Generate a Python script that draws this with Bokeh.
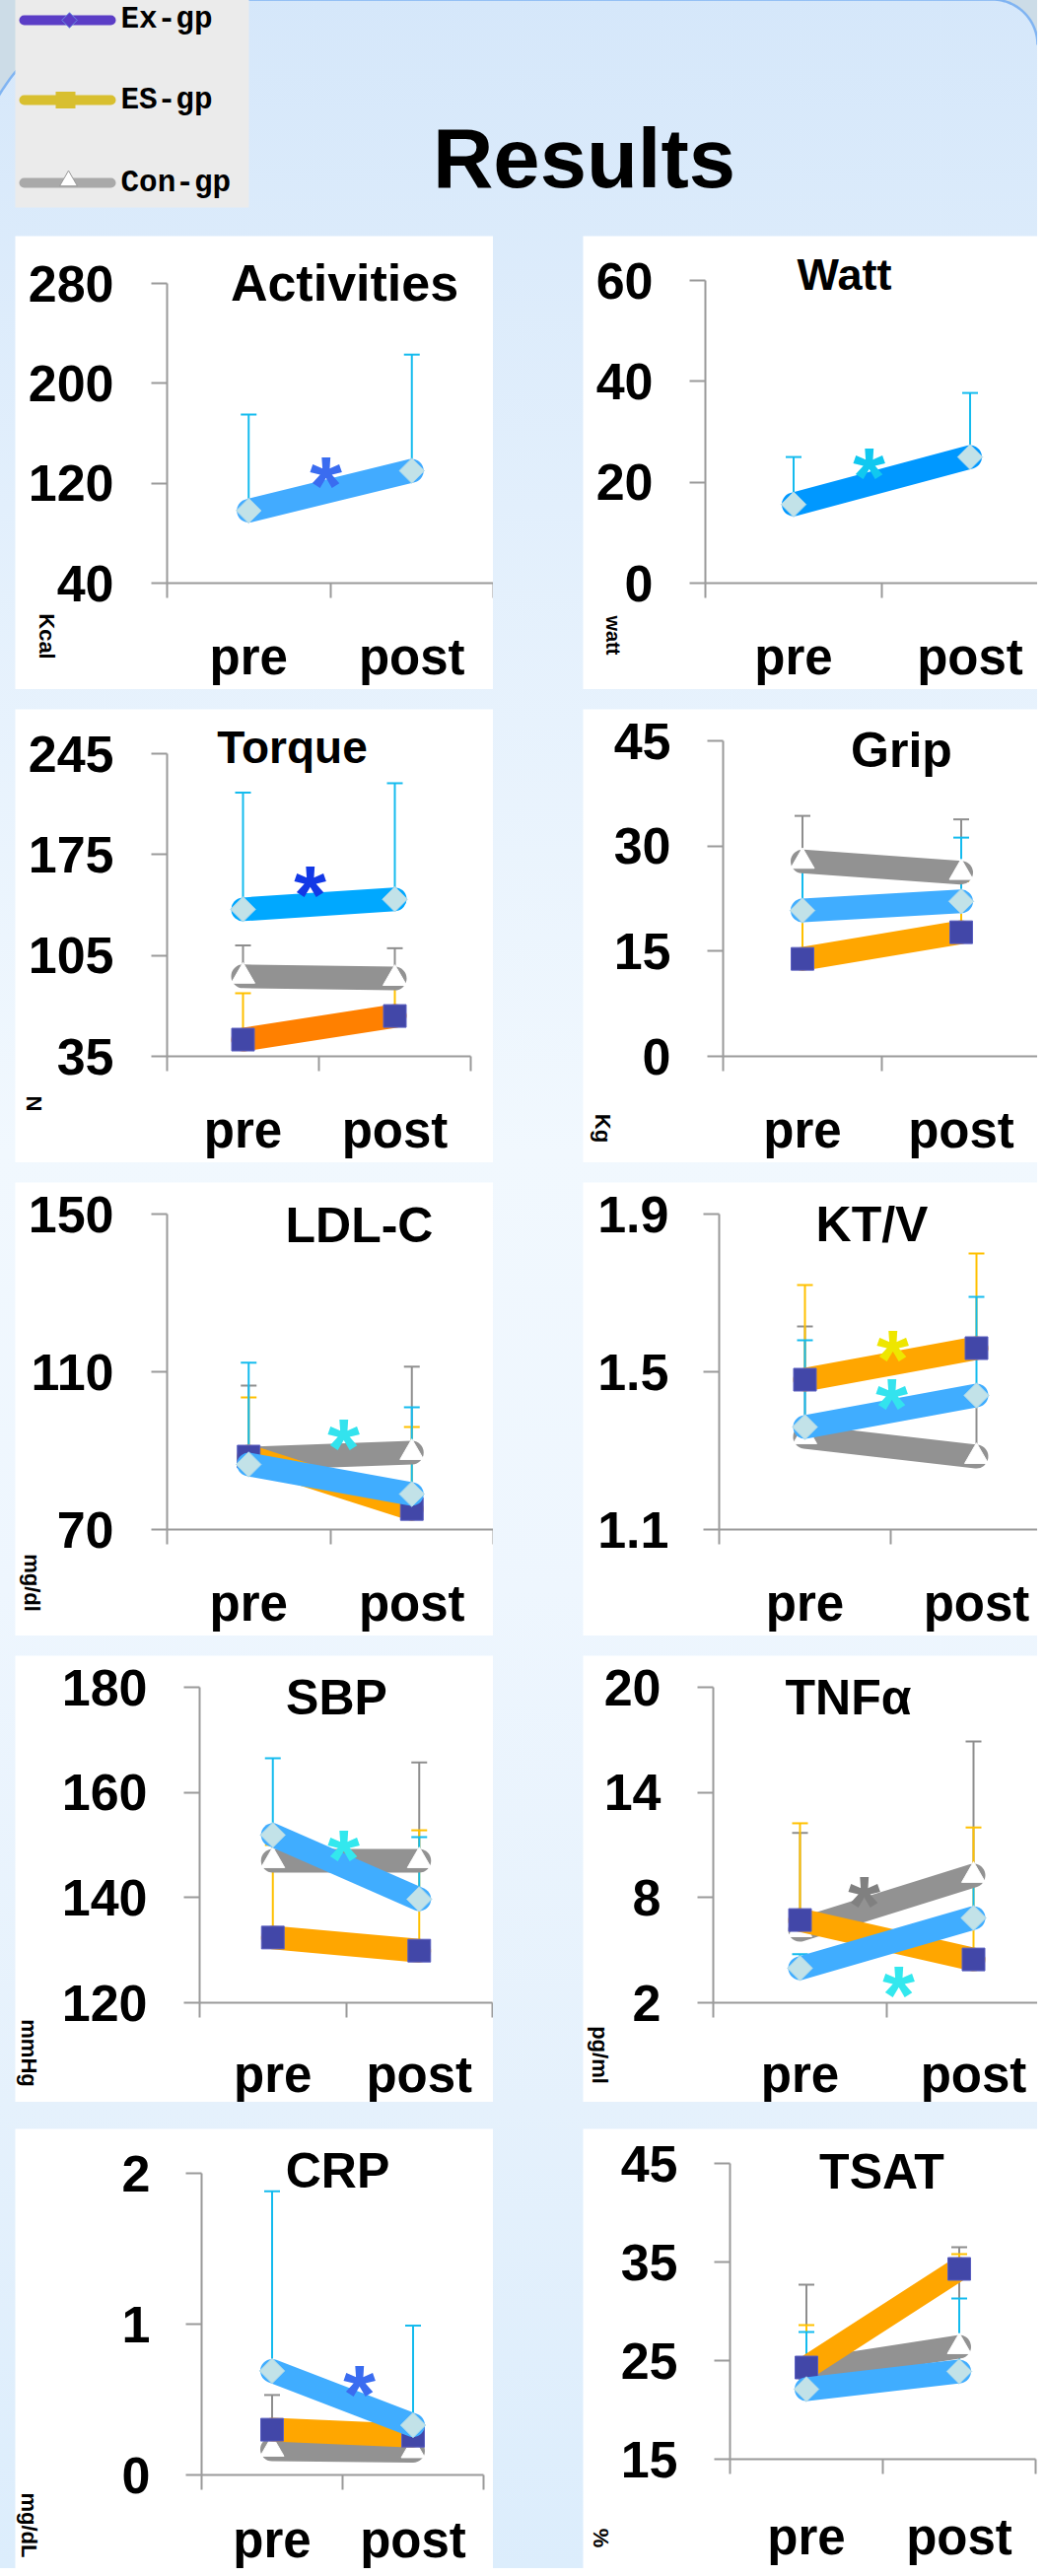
import numpy as np
from bokeh.plotting import figure
from bokeh.models import Range1d, LinearAxis, FixedTicker, Spacer
from bokeh.layouts import column, row
from bokeh.core.properties import value
from bokeh.embed import file_html
from bokeh.resources import INLINE

FONT = "Liberation Sans"
MONO = "Liberation Mono"
BASE_SHIFT = 0.29   # empirical: anchor -> rendered baseline offset (em)
STAR_SHIFT = 0.276  # empirical: anchor -> rendered asterisk centre offset (em)

# ---------------- data ----------------
groups = ["Ex-gp", "ES-gp", "Con-gp"]
times = ["pre", "post"]
time_x = [0.5, 1.5]
time_edges = [0, 1, 2]

activities_ticks = [40, 120, 200, 280]
activities_ex = [98, 130]
activities_ex_sd = [77, 93]

watt_ticks = [0, 20, 40, 60]
watt_ex = [15.6, 25.0]
watt_ex_sd = [9.4, 12.7]

torque_ticks = [35, 105, 175, 245]
torque_ex = [137, 144]
torque_ex_sd = [81, 80.5]
torque_es = [46.6, 63]
torque_es_sd = [32.2, 27]
torque_con = [90.5, 89]
torque_con_sd = [21.5, 21]

grip_ticks = [0, 15, 30, 45]
grip_ex = [20.8, 22.1]
grip_ex_sd = [6.7, 9.1]
grip_es = [13.9, 17.7]
grip_es_sd = [7.0, 7.3]
grip_con = [27.8, 26.2]
grip_con_sd = [6.5, 7.6]

ldl_ticks = [70, 110, 150]
ldl_ex = [86.5, 79.0]
ldl_ex_sd = [25.8, 22.0]
ldl_es = [88.5, 75.2]
ldl_es_sd = [15.0, 20.8]
ldl_con = [88.0, 89.5]
ldl_con_sd = [18.5, 21.8]

ktv_ticks = [1.1, 1.5, 1.9]
ktv_ex = [1.36, 1.44]
ktv_ex_sd = [0.22, 0.25]
ktv_es = [1.48, 1.56]
ktv_es_sd = [0.24, 0.24]
ktv_con = [1.335, 1.285]
ktv_con_sd = [0.28, 0.145]

sbp_ticks = [120, 140, 160, 180]
sbp_ex = [151.9, 139.7]
sbp_ex_sd = [14.6, 11.8]
sbp_es = [132.4, 129.9]
sbp_es_sd = [17.6, 22.9]
sbp_con = [147.0, 147.0]
sbp_con_sd = [5.0, 18.7]

tnf_ticks = [2, 8, 14, 20]
tnf_ex = [3.97, 6.84]
tnf_ex_sd = [0.8, 2.46]
tnf_es = [6.72, 4.47]
tnf_es_sd = [5.52, 7.53]
tnf_con = [6.16, 9.26]
tnf_con_sd = [5.53, 7.64]

crp_ticks = [0, 1, 2]
crp_ex = [0.69, 0.33]
crp_ex_sd = [1.19, 0.66]
crp_es = [0.30, 0.26]
crp_es_sd = [0.05, 0.05]
crp_con = [0.17, 0.16]
crp_con_sd = [0.36, 0.05]

tsat_ticks = [15, 25, 35, 45]
tsat_ex = [22.1, 23.9]
tsat_ex_sd = [5.8, 7.4]
tsat_es = [24.3, 34.3]
tsat_es_sd = [4.3, 1.5]
tsat_con = [24.0, 26.4]
tsat_con_sd = [8.7, 10.1]

# ---------------- styles ----------------
EX_LINE = "#40ADFF"
ES_LINE = "#FFA600"
CON_LINE = "#929292"
ERR = {"Ex-gp": "#14BBEE", "ES-gp": "#FFC000", "Con-gp": "#8E8E8E"}
AXIS = "#9A9A9A"


def series(group, mean, sd, color):
    return dict(group=group, mean=mean, sd=sd, color=color)


panels = [
    dict(title="Activities", ticks=activities_ticks, box=(23, 247, 485, 460), axis_x=177, axis_y=599,
         y_top=295, cw=165.5, lab_right=113, title_pos=(357, 310, 52), unit=("Kcal", 55, 653, 22),
         xlab_base=683, stars=[(338, 477, "#3A6CF0")],
         series=[series("Ex-gp", activities_ex, activities_ex_sd, "#42ABFF")]),
    dict(title="Watt", ticks=watt_ticks, box=(599, 247, 461, 460), axis_x=723, axis_y=599,
         y_top=292, cw=179, lab_right=660, title_pos=(864, 299, 45), unit=("watt", 629, 652, 20),
         xlab_base=683, stars=[(889, 468, "#10C8F0")],
         series=[series("Ex-gp", watt_ex, watt_ex_sd, "#0098FF")]),
    dict(title="Torque", ticks=torque_ticks, box=(23, 727, 485, 460), axis_x=177, axis_y=1079,
         y_top=772, cw=154, lab_right=113, title_pos=(304, 779, 46), unit=("N", 42, 1127, 22),
         xlab_base=1163, stars=[(322, 892, "#1238E6")],
         series=[series("Con-gp", torque_con, torque_con_sd, CON_LINE),
                 series("ES-gp", torque_es, torque_es_sd, "#FF8000"),
                 series("Ex-gp", torque_ex, torque_ex_sd, "#00A8FF")]),
    dict(title="Grip", ticks=grip_ticks, box=(599, 727, 461, 460), axis_x=741, axis_y=1079,
         y_top=759, cw=161, lab_right=678, title_pos=(922, 783, 50), unit=("Kg", 619, 1152, 22),
         xlab_base=1163, stars=[],
         series=[series("Con-gp", grip_con, grip_con_sd, CON_LINE),
                 series("ES-gp", grip_es, grip_es_sd, ES_LINE),
                 series("Ex-gp", grip_ex, grip_ex_sd, EX_LINE)]),
    dict(title="LDL-C", ticks=ldl_ticks, box=(23, 1207, 485, 460), axis_x=177, axis_y=1559,
         y_top=1239, cw=165.5, lab_right=113, title_pos=(372, 1265, 50), unit=("mg/dl", 40, 1613, 22),
         xlab_base=1643, stars=[(356, 1453, "#33E3EE")],
         series=[series("Con-gp", ldl_con, ldl_con_sd, CON_LINE),
                 series("ES-gp", ldl_es, ldl_es_sd, ES_LINE),
                 series("Ex-gp", ldl_ex, ldl_ex_sd, EX_LINE)]),
    dict(title="KT/V", ticks=ktv_ticks, box=(599, 1207, 461, 460), axis_x=737, axis_y=1559,
         y_top=1239, cw=174, lab_right=676, title_pos=(892, 1264, 50), unit=None,
         xlab_base=1643, stars=[(913, 1363, "#EEE600"), (912, 1412, "#33E3EE")],
         series=[series("Con-gp", ktv_con, ktv_con_sd, CON_LINE),
                 series("ES-gp", ktv_es, ktv_es_sd, ES_LINE),
                 series("Ex-gp", ktv_ex, ktv_ex_sd, EX_LINE)]),
    dict(title="SBP", ticks=sbp_ticks, box=(23, 1687, 485, 453), axis_x=210, axis_y=2039,
         y_top=1719, cw=148.5, lab_right=147, title_pos=(349, 1744, 50), unit=("mmHg", 37, 2090, 22),
         xlab_base=2121, stars=[(356, 1870, "#33E8EE")],
         series=[series("Con-gp", sbp_con, sbp_con_sd, CON_LINE),
                 series("ES-gp", sbp_es, sbp_es_sd, ES_LINE),
                 series("Ex-gp", sbp_ex, sbp_ex_sd, EX_LINE)]),
    dict(title="TNFα", ticks=tnf_ticks, box=(599, 1687, 461, 453), axis_x=731, axis_y=2039,
         y_top=1719, cw=176, lab_right=668, title_pos=(868, 1744, 50), unit=("pg/ml", 616, 2092, 22),
         xlab_base=2121, stars=[(884, 1917, "#808080"), (919, 2008, "#33E8EE")],
         series=[series("Con-gp", tnf_con, tnf_con_sd, CON_LINE),
                 series("ES-gp", tnf_es, tnf_es_sd, ES_LINE),
                 series("Ex-gp", tnf_ex, tnf_ex_sd, EX_LINE)]),
    dict(title="CRP", ticks=crp_ticks, box=(23, 2167, 485, 446), axis_x=212, axis_y=2518,
         y_top=2212, cw=143, lab_right=150, title_pos=(350, 2224, 50), unit=("mg/dL", 37, 2569, 22),
         xlab_base=2593, stars=[(372, 2413, "#3A6CF0")],
         series=[series("Con-gp", crp_con, crp_con_sd, CON_LINE),
                 series("ES-gp", crp_es, crp_es_sd, ES_LINE),
                 series("Ex-gp", crp_ex, crp_ex_sd, EX_LINE)]),
    dict(title="TSAT", ticks=tsat_ticks, box=(599, 2167, 461, 446), axis_x=748, axis_y=2502,
         y_top=2202, cw=155, lab_right=685, title_pos=(902, 2225, 50), unit=("%", 617, 2582, 22),
         xlab_base=2590, stars=[],
         series=[series("Con-gp", tsat_con, tsat_con_sd, CON_LINE),
                 series("ES-gp", tsat_es, tsat_es_sd, ES_LINE),
                 series("Ex-gp", tsat_ex, tsat_ex_sd, EX_LINE)]),
]


def make_panel(cfg):
    L, T, W, H = cfg["box"]
    ax, ay, ytop, cw = cfg["axis_x"], cfg["axis_y"], cfg["y_top"], cfg["cw"]
    ticks = cfg["ticks"]
    ymin, ymax = ticks[0], ticks[-1]
    s = (ay - ytop) / (ymax - ymin)
    xr = Range1d(-(ax - L) / cw, (L + W - ax) / cw)
    yr = Range1d(ymin - (T + H - ay) / s, ymin + (ay - T) / s)

    def X(px):
        return (px - ax) / cw

    def Y(py):
        return ymin + (ay - py) / s

    p = figure(width=W, height=H, x_range=xr, y_range=yr, x_axis_type=None, y_axis_type=None,
               toolbar_location=None, output_backend="svg", min_border=0,
               min_border_left=0, min_border_right=0, min_border_top=0, min_border_bottom=0,
               background_fill_color="white", border_fill_color=None, outline_line_color=None)

    yax = LinearAxis(fixed_location=0, bounds=(ymin, ymax), ticker=FixedTicker(ticks=ticks),
                     axis_line_color=AXIS, axis_line_width=2,
                     major_tick_line_color=AXIS, major_tick_line_width=2,
                     major_tick_in=0, major_tick_out=16, minor_tick_line_color=None,
                     major_label_text_font=FONT, major_label_text_font_style="bold",
                     major_label_text_font_size="52px", major_label_text_color="black",
                     major_label_standoff=int(ax - cfg["lab_right"] - 26))
    p.add_layout(yax, "left")

    xax = LinearAxis(fixed_location=ymin, bounds=(time_edges[0], time_edges[-1]),
                     ticker=FixedTicker(ticks=time_x, minor_ticks=time_edges),
                     major_label_overrides=dict(zip(time_x, times)),
                     axis_line_color=AXIS, axis_line_width=2,
                     major_tick_line_color=None, major_tick_in=0, major_tick_out=15,
                     minor_tick_line_color=AXIS, minor_tick_line_width=2,
                     minor_tick_in=0, minor_tick_out=15,
                     major_label_text_font=FONT, major_label_text_font_style="bold",
                     major_label_text_font_size="51px", major_label_text_color="black",
                     major_label_standoff=int(cfg["xlab_base"] - ay - 15 - 38))
    p.add_layout(xax, "below")

    # error bars (upper only)
    for sr in cfg["series"]:
        tops = [m + d for m, d in zip(sr["mean"], sr["sd"])]
        ec = ERR[sr["group"]]
        p.segment(x0=time_x, y0=sr["mean"], x1=time_x, y1=tops, line_color=ec, line_width=2)
        p.scatter(x=time_x, y=tops, marker="dash", size=16, line_color=ec, line_width=2)

    # lines + markers
    for sr in cfg["series"]:
        p.line(x=time_x, y=sr["mean"], line_color=sr["color"], line_width=24, line_cap="round")
        g = sr["group"]
        if g == "Ex-gp":
            p.scatter(x=time_x, y=sr["mean"], marker="square", angle=np.pi / 4, size=18,
                      fill_color="#C2E2E8", line_color="#A6D6EA", line_width=1)
        elif g == "ES-gp":
            p.scatter(x=time_x, y=sr["mean"], marker="square", size=23,
                      fill_color="#4247A8", line_color="#5A5FC0", line_width=1)
        else:
            p.scatter(x=time_x, y=sr["mean"], marker="triangle", size=24,
                      fill_color="white", line_color="white", line_width=1)

    # title
    tx, ty, ts = cfg["title_pos"]
    p.text(x=[X(tx)], y=[Y(ty - BASE_SHIFT * ts)], text=[cfg["title"]], text_font=value(FONT),
           text_font_style="bold", text_font_size=f"{ts}px", text_align="center",
           text_baseline="alphabetic", text_color="black")

    # unit (rotated)
    if cfg["unit"] is not None:
        ut, ux, uy, us = cfg["unit"]
        p.text(x=[X(ux)], y=[Y(uy)], text=[ut], angle=-np.pi / 2, text_font=value(FONT),
               text_font_style="bold", text_font_size=f"{us}px", text_align="center",
               text_baseline="middle", text_color="black")

    # significance stars
    star_size = 84
    for sx, sy, sc in cfg["stars"]:
        p.text(x=[X(sx)], y=[Y(sy + STAR_SHIFT * star_size)], text=["*"], text_font=value(FONT),
               text_font_style="bold", text_font_size=f"{star_size}px", text_align="center",
               text_baseline="alphabetic", text_color=sc)
    return p


figs = [make_panel(c) for c in panels]

# ---------------- header ----------------
hdr = figure(width=1060, height=247, x_range=Range1d(0, 1060), y_range=Range1d(247, 0),
             x_axis_type=None, y_axis_type=None, toolbar_location=None, output_backend="svg",
             min_border=0, min_border_left=0, min_border_right=0, min_border_top=0,
             min_border_bottom=0, background_fill_color=None, border_fill_color=None,
             outline_line_color=None)

# outer rounded frame decoration
OUTER = "#CCDCE7"
hdr.quad(left=[0], right=[1060], top=[0], bottom=[7], fill_color=OUTER, line_color=None)
th = np.linspace(np.pi / 2, np.deg2rad(157), 40)
arc_x = 178 + 200 * np.cos(th)
arc_y = 207 - 200 * np.sin(th)
hdr.patch(x=np.concatenate([[0], arc_x, [0]]), y=np.concatenate([[0], arc_y, [arc_y[-1]]]),
          fill_color=OUTER, line_color=None)
th2 = np.linspace(np.pi / 2, 0, 30)
arc2_x = 1014 + 46 * np.cos(th2)
arc2_y = 53 - 46 * np.sin(th2)
hdr.patch(x=np.concatenate([arc2_x, [1060, 1060]]), y=np.concatenate([arc2_y, [53, 0]]),
          fill_color=OUTER, line_color=None)
hdr.line(x=np.concatenate([arc_x[::-1], arc2_x]), y=np.concatenate([arc_y[::-1], arc2_y]),
         line_color="#80B4F2", line_width=2.5)

# legend box
hdr.quad(left=[23], right=[260], top=[7], bottom=[218], fill_color="#EBEBEB", line_color=None)
leg_y = [28, 109, 193]
leg_colors = ["#5B3DC6", "#D8BF2F", "#A9A9A9"]
hdr.segment(x0=[32] * 3, y0=leg_y, x1=[120] * 3, y1=leg_y, line_color=leg_colors,
            line_width=10, line_cap="round")
hdr.scatter(x=[78], y=[leg_y[0]], marker="square", angle=np.pi / 4, size=11,
            fill_color="#5B3DC6", line_color="#6A8CE0", line_width=1)
hdr.rect(x=[74], y=[leg_y[1]], width=20, height=17, fill_color="#D8BF2F", line_color=None)
hdr.scatter(x=[77], y=[leg_y[2] - 2], marker="triangle", size=18, fill_color="white",
            line_color="#999999", line_width=1)
leg_size = 31
hdr.text(x=[130] * 3, y=[b - BASE_SHIFT * leg_size for b in (36, 118, 202)], text=groups,
         text_font=value(MONO), text_font_style="bold", text_font_size=f"{leg_size}px",
         text_align="left", text_baseline="alphabetic", text_color="black")

hdr.text(x=[600], y=[193 - BASE_SHIFT * 85], text=["Results"], text_font=value(FONT),
         text_font_style="bold", text_font_size="85px", text_align="center",
         text_baseline="alphabetic", text_color="black")

# ---------------- layout ----------------
row_h = [460, 460, 460, 453, 446]
gaps = [20, 20, 20, 27]
children = [hdr]
for i in range(5):
    h = row_h[i]
    children.append(row(Spacer(width=23, height=h), figs[2 * i], Spacer(width=91, height=h),
                        figs[2 * i + 1]))
    if i < 4:
        children.append(Spacer(width=1060, height=gaps[i]))

root = column(children, styles={
    "margin": "-8px",
    "background": "linear-gradient(180deg, #D5E7FA 0%, #E2EFFC 20%, #F1F8FE 45%, "
                  "#EEF6FE 62%, #E5F1FC 82%, #DCEDFC 100%)"})

open("out.html", "w").write(file_html(root, INLINE, "Results"))
